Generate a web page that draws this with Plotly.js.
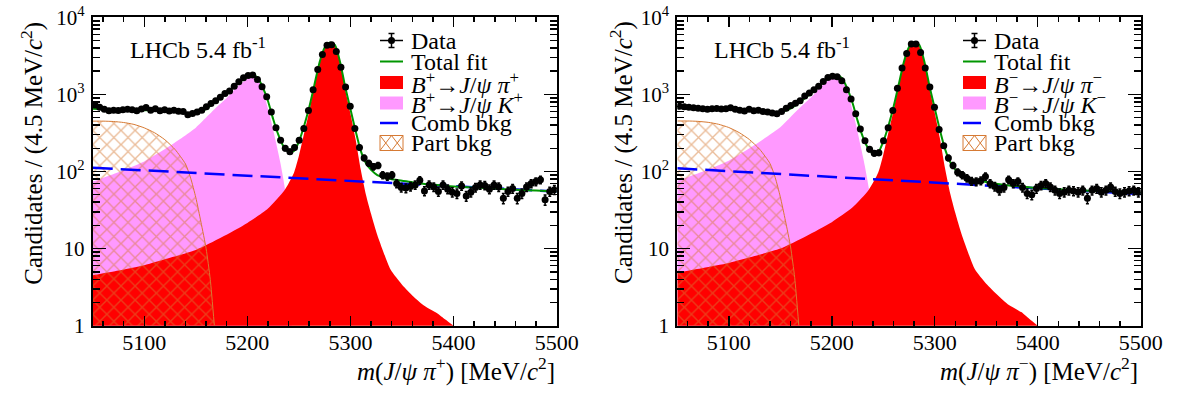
<!DOCTYPE html>
<html>
<head>
<meta charset="utf-8">
<script src="https://cdn.plot.ly/plotly-3.0.1.min.js"></script>
<style>html,body{margin:0;padding:0;background:#fff;}#chart{width:1178px;height:394px;}</style>
</head>
<body>
<div id="chart"></div>
<script>
// ---------------- data ----------------
const binStart = 5050, binWidth = 4.5, nBins = 100;

// B+ panel : data counts per 4.5 MeV bin
const dataPlus = [728,680,640,615,625,620,630,640,630,615,
 645,675,625,650,615,630,610,625,605,600,
 545,565,590,625,690,760,830,915,1030,1110,
 1280,1460,1650,1760,1780,1560,1260,935,590,370,
 255,200,181,205,255,360,620,1150,2100,3300,
 4350,4400,3600,2250,1250,700,360,205,150,128,
 115,120,90,86,90,70,62,61,64,67,
 77,56,67,63,55,67,59,54,52,65,
 48,54,62,67,66,59,67,63,45,55,
 60,45,52,63,70,74,78,43,55,58];
// B- panel
const dataMinus = [700,690,680,670,660,650,640,650,655,645,
 650,670,640,625,610,640,615,625,600,590,
 575,560,600,660,720,770,830,950,1040,1150,
 1280,1470,1660,1720,1700,1500,1150,870,560,355,
 250,195,172,175,250,370,620,1200,2200,3400,
 4500,4500,3500,2200,1250,680,350,215,150,120,
 98,90,82,75,74,76,86,70,64,57,
 62,78,70,74,62,52,50,60,66,70,
 63,57,52,54,57,56,54,57,45,57,
 60,54,57,63,55,52,54,56,57,54];

// signal B -> J/psi pi
const sigX = [5050,5075,5100,5125,5150,5175,5200,5220,5236,5245,5250,5255,5260,5265,5270,5273,5276,5279,5281,5283,5286,5289,5292,5295,5300,5305,5310,5315,5320,5326,5332,5339,5350,5361,5372,5384,5392,5400];
const sigPlus = [4.5,5.2,6.1,7.6,9.6,14,21.5,33,57,95,160,310,600,1300,2500,3400,4150,4580,4620,4450,3950,3000,2000,1150,560,260,105,50,28,15,9,5.3,3.4,2.4,1.8,1.45,1.2,1.0];
const sigMinus = [4.9,5.6,6.5,8,10,14.5,22,34,58,96,165,320,620,1320,2550,3450,4200,4600,4650,4480,3980,3050,2050,1180,580,270,110,52,29,15.5,9.2,5.4,3.5,2.5,1.85,1.5,1.22,1.0];

// misidentified B -> J/psi K
const kX = [5050,5075,5100,5125,5150,5160,5170,5180,5190,5200,5205,5208,5212,5216,5220,5224,5228,5232,5236,5240,5243];
const kPlus = [74,98,135,215,370,500,680,900,1250,1580,1650,1640,1450,1030,650,400,230,130,65,20,2];
const kMinus = [76,100,138,220,375,510,690,920,1280,1620,1690,1670,1460,1030,640,380,215,120,60,18,2];

// partially reconstructed background
const partX = [5050,5060,5070,5080,5090,5100,5110,5120,5130,5140,5145,5150,5155,5160,5164,5168];
const partPlus = [450,450,445,432,408,368,318,258,192,125,82,46,22,10,4,1];
const partMinus = [452,452,447,434,410,372,320,260,194,127,84,47,23,10.5,4.2,1];

// combinatorial background
const combX = [5050,5500];
const combPlus = [112,55];
const combMinus = [110,51];

// total fit
const totX = [5050,5060,5070,5080,5090,5100,5110,5120,5130,5140,5150,5160,5170,5180,5190,5200,5205,5210,5215,5220,5225,5230,5235,5240,5245,5250,5255,5260,5265,5270,5275,5280,5285,5290,5295,5300,5305,5310,5315,5320,5326,5332,5339,5350,5361,5372,5384,5400,5420,5440,5460,5480,5500];
const totPlus = [650,642,636,632,628,625,622,615,600,572,578,645,820,1050,1370,1720,1790,1650,1230,820,480,300,212,180,183,245,390,680,1330,2600,4050,4720,4350,2600,1230,640,335,185,128,105,90,84,80,76,72,69,67,64,62,60,58,56.5,55];
const totMinus = [690,682,672,662,656,650,640,626,610,590,592,655,810,1040,1380,1730,1770,1620,1200,790,460,285,203,172,176,245,390,690,1340,2620,4100,4750,4380,2640,1260,660,345,195,132,106,90,82,77,73,69,66,64,61,59,57,56,55,53];

const yTickVals = [1,10,100,1000,10000];
const yTickText = ['1','10','10<sup>2</sup>','10<sup>3</sup>','10<sup>4</sup>'];

const legendPlus = ['Data','Total fit',
  '<i>B</i><sup>+</sup>→<i>J</i>/<i>ψ</i> <i>π</i><sup>+</sup>',
  '<i>B</i><sup>+</sup>→<i>J</i>/<i>ψ</i> <i>K</i><sup>+</sup>',
  'Comb bkg','Part bkg'];
const legendMinus = ['Data','Total fit',
  '<i>B</i><sup>−</sup>→<i>J</i>/<i>ψ</i> <i>π</i><sup>−</sup>',
  '<i>B</i><sup>−</sup>→<i>J</i>/<i>ψ</i> <i>K</i><sup>−</sup>',
  'Comb bkg','Part bkg'];
const xTitlePlus = '<i>m</i>(<i>J</i>/<i>ψ</i> <i>π</i><sup>+</sup>) [MeV/<i>c</i><sup>2</sup>]';
const xTitleMinus = '<i>m</i>(<i>J</i>/<i>ψ</i> <i>π</i><sup>−</sup>) [MeV/<i>c</i><sup>2</sup>]';
const yTitle = 'Candidates / (4.5 MeV/<i>c</i><sup>2</sup>)';
const lhcbLabel = 'LHCb 5.4 fb<sup>-1</sup>';

// ---------------- styling ----------------
const W = 1178, H = 394;
const FONT = 'Liberation Serif';
const RED = '#ff0000', PINK = 'rgb(255,153,255)', GREEN = 'rgb(0,150,0)', BLUE = '#0000ff', ORANGE = 'rgb(214,122,52)';
const fx = p => p / W, fy = p => 1 - p / H;

const binCenters = [];
for (let i = 0; i < nBins; i++) binCenters.push(binStart + binWidth * (i + 0.5));

function panelTraces(xa, ya, d) {
  const sm = {shape: 'spline', smoothing: 0.6};
  return [
    {x: kX, y: d.k, xaxis: xa, yaxis: ya, type: 'scatter', mode: 'lines', fill: 'tozeroy',
     fillcolor: PINK, line: Object.assign({width: 0, color: PINK}, sm), hoverinfo: 'skip'},
    {x: sigX, y: d.sig, xaxis: xa, yaxis: ya, type: 'scatter', mode: 'lines', fill: 'tozeroy',
     fillcolor: RED, line: Object.assign({width: 0, color: RED}, sm), hoverinfo: 'skip'},
    {x: partX, y: d.part, xaxis: xa, yaxis: ya, type: 'scatter', mode: 'lines', fill: 'tozeroy',
     fillcolor: 'rgba(0,0,0,0)',
     fillpattern: {shape: 'x', fgcolor: ORANGE, bgcolor: 'rgba(0,0,0,0)', size: 10, solidity: 0.25, fillmode: 'overlay'},
     line: Object.assign({width: 1, color: ORANGE}, sm), hoverinfo: 'skip'},
    {x: combX, y: d.comb, xaxis: xa, yaxis: ya, type: 'scatter', mode: 'lines',
     line: {width: 2.5, color: BLUE, dash: '20px,8px'}, hoverinfo: 'skip'},
    {x: totX, y: d.tot, xaxis: xa, yaxis: ya, type: 'scatter', mode: 'lines',
     line: Object.assign({width: 2, color: GREEN}, sm), hoverinfo: 'skip'},
    {x: binCenters, y: d.data, xaxis: xa, yaxis: ya, type: 'scatter', mode: 'markers',
     marker: {color: 'black', size: 7},
     error_y: {type: 'sqrt', color: 'black', thickness: 1.5, width: 1.5},
     error_x: {type: 'constant', value: binWidth / 2, color: 'black', thickness: 1.5, width: 0},
     hoverinfo: 'skip'}
  ];
}

const traces = [].concat(
  panelTraces('x', 'y', {k: kPlus, sig: sigPlus, part: partPlus, comb: combPlus, tot: totPlus, data: dataPlus}),
  panelTraces('x2', 'y2', {k: kMinus, sig: sigMinus, part: partMinus, comb: combMinus, tot: totMinus, data: dataMinus})
);

const minorY = [];
for (let e = 0; e < 4; e++) for (let m = 2; m <= 9; m++) minorY.push(m * Math.pow(10, e));

function xAxis(domain, anchor) {
  return {domain: domain, anchor: anchor, range: [5050, 5500], showgrid: false, zeroline: false,
    showline: true, linewidth: 2, linecolor: 'black', mirror: 'ticks',
    ticks: 'inside', ticklen: 10, tickwidth: 1.5, tickcolor: 'black', tick0: 5000, dtick: 100,
    minor: {ticks: 'inside', ticklen: 5, tickwidth: 1.5, tickcolor: 'black', tick0: 5000, dtick: 20},
    tickfont: {family: FONT, size: 22, color: 'black'}, ticklabelstandoff: -4};
}
function yAxis(anchor) {
  return {domain: [fy(325.7), fy(17.3)], anchor: anchor, type: 'log', range: [0, 4],
    showgrid: false, zeroline: false, showline: true, linewidth: 2, linecolor: 'black', mirror: 'ticks',
    tickmode: 'array', tickvals: yTickVals, ticktext: yTickText,
    ticks: 'inside', ticklen: 13, tickwidth: 1.5, tickcolor: 'black',
    minor: {ticks: 'inside', ticklen: 7, tickwidth: 1.5, tickcolor: 'black', tickmode: 'array', tickvals: minorY},
    tickfont: {family: FONT, size: 21, color: 'black'}, ticklabelstandoff: 2};
}

const annotations = [];
const shapes = [];
const rowsY = [40.5, 61.5, 82.5, 103, 123, 143];

function addPanelDecor(off, legendText, xTitle, yTitleX, lhcbX) {
  annotations.push({xref: 'paper', yref: 'paper', x: fx(yTitleX), y: fy(153), text: yTitle, textangle: -90,
    showarrow: false, xanchor: 'center', yanchor: 'middle', font: {family: FONT, size: 25, color: 'black'}});
  annotations.push({xref: 'paper', yref: 'paper', x: fx(556.7 + off), y: fy(369), text: xTitle,
    showarrow: false, xanchor: 'right', yanchor: 'middle', font: {family: FONT, size: 25, color: 'black'}});
  annotations.push({xref: 'paper', yref: 'paper', x: fx(lhcbX), y: fy(48), text: lhcbLabel,
    showarrow: false, xanchor: 'left', yanchor: 'middle', font: {family: FONT, size: 24, color: 'black'}});
  legendText.forEach((t, i) => annotations.push({xref: 'paper', yref: 'paper', x: fx(409 + off), y: fy(rowsY[i]),
    text: t, showarrow: false, xanchor: 'left', yanchor: 'middle', font: {family: FONT, size: 24, color: 'black'}}));
  const x0 = 380 + off, x1 = 403 + off, xm = (x0 + x1) / 2;
  const P = (a, b, c, d, col, w) => shapes.push({type: 'line', xref: 'paper', yref: 'paper',
    x0: fx(a), y0: fy(b), x1: fx(c), y1: fy(d), line: {color: col, width: w}});
  // Data symbol
  P(x0, rowsY[0], x1, rowsY[0], 'black', 1.5);
  P(xm, rowsY[0] - 7, xm, rowsY[0] + 7, 'black', 1.5);
  P(xm - 3, rowsY[0] - 7, xm + 3, rowsY[0] - 7, 'black', 1.5);
  P(xm - 3, rowsY[0] + 7, xm + 3, rowsY[0] + 7, 'black', 1.5);
  shapes.push({type: 'circle', xref: 'paper', yref: 'paper', x0: fx(xm - 3.5), x1: fx(xm + 3.5),
    y0: fy(rowsY[0] + 3.5), y1: fy(rowsY[0] - 3.5), fillcolor: 'black', line: {width: 0}});
  // total fit
  P(x0, rowsY[1], x1, rowsY[1], GREEN, 2);
  // boxes
  shapes.push({type: 'rect', xref: 'paper', yref: 'paper', x0: fx(x0), x1: fx(x1), y0: fy(rowsY[2] + 6.5), y1: fy(rowsY[2] - 6.5), fillcolor: RED, line: {width: 0}});
  shapes.push({type: 'rect', xref: 'paper', yref: 'paper', x0: fx(x0), x1: fx(x1), y0: fy(rowsY[3] + 6.5), y1: fy(rowsY[3] - 6.5), fillcolor: PINK, line: {width: 0}});
  // comb bkg
  P(x0, rowsY[4], x0 + 18, rowsY[4], BLUE, 2.5);
  // part bkg hatched box
  const yt = rowsY[5] - 7.5, yb = rowsY[5] + 7.5;
  shapes.push({type: 'rect', xref: 'paper', yref: 'paper', x0: fx(x0), x1: fx(x1), y0: fy(yb), y1: fy(yt), line: {color: ORANGE, width: 1}});
  P(x0, yt, xm, yb, ORANGE, 1); P(x0, yb, xm, yt, ORANGE, 1);
  P(xm, yt, x1, yb, ORANGE, 1); P(xm, yb, x1, yt, ORANGE, 1);
}
addPanelDecor(0, legendPlus, xTitlePlus, 31.7, 128);
addPanelDecor(583, legendMinus, xTitleMinus, 621, 712);

const layout = {
  width: W, height: H, margin: {l: 0, r: 0, t: 0, b: 0},
  paper_bgcolor: 'white', plot_bgcolor: 'white', showlegend: false,
  font: {family: FONT, color: 'black'},
  xaxis: xAxis([fx(92.7), fx(556.7)], 'y'),
  yaxis: yAxis('x'),
  xaxis2: xAxis([fx(677.3), fx(1140.7)], 'y2'),
  yaxis2: yAxis('x2'),
  annotations: annotations, shapes: shapes
};

Plotly.newPlot('chart', traces, layout, {displayModeBar: false, staticPlot: true});
</script>
</body>
</html>
